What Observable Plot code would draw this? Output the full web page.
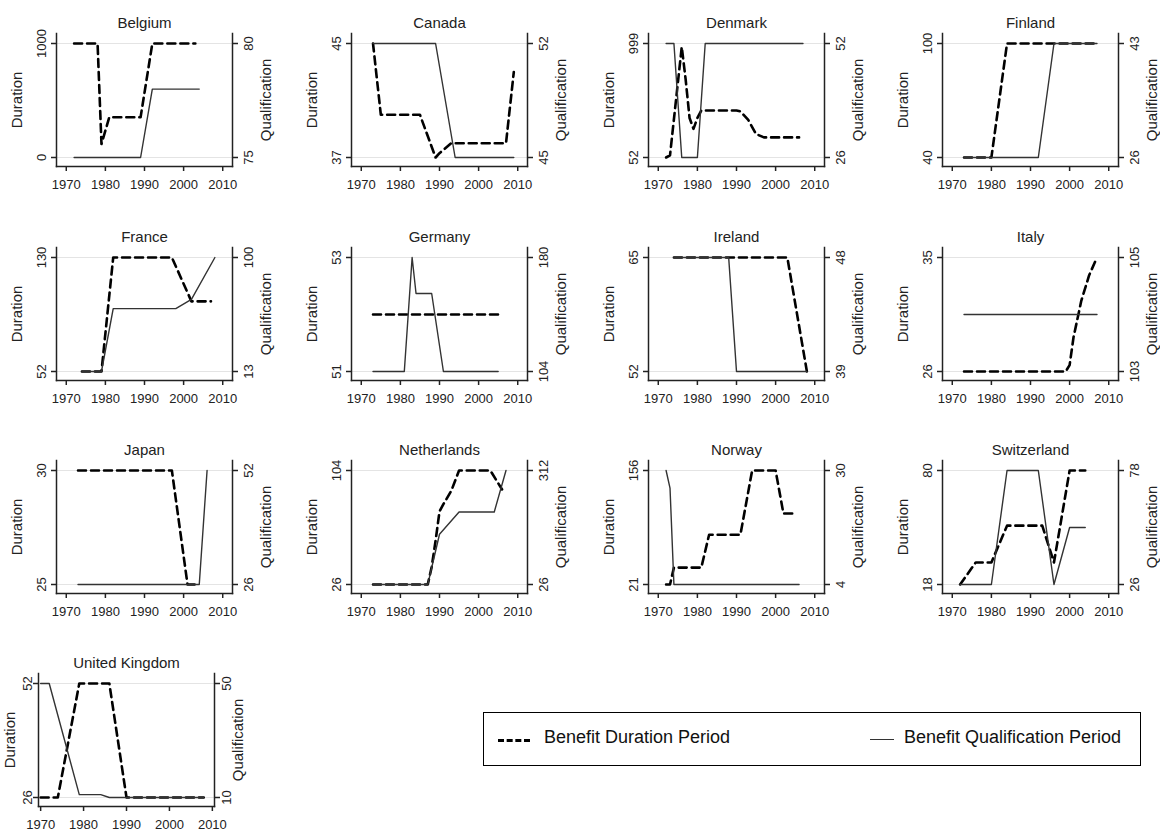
<!DOCTYPE html>
<html><head><meta charset="utf-8">
<script src="https://cdn.jsdelivr.net/npm/d3@7"></script>
<script src="https://cdn.jsdelivr.net/npm/@observablehq/plot@0.6"></script>
<style>
html,body{margin:0;padding:0;background:#fff;}
body{font-family:"Liberation Sans",Arial,Helvetica,sans-serif;}
#root{position:relative;width:1160px;height:833px;overflow:hidden;background:#fff;}
.panel{position:absolute;width:280px;height:195px;}
.panel svg{position:absolute;left:0;top:0;max-width:none;}
g[aria-label="y-axis label"] text{font-size:15px;}
#legend{position:absolute;left:483px;top:712px;width:658px;height:54px;border:1.5px solid #000;box-sizing:border-box;font-size:18px;color:#111;}
#legend .sw{position:absolute;top:26px;width:32px;height:0;}
#legend .lab{position:absolute;top:14px;white-space:nowrap;}
</style></head>
<body><div id="root"></div>
<script>
// ---- data ----
const countries = ["Belgium","Canada","Denmark","Finland","France","Germany","Ireland","Italy","Japan","Netherlands","Norway","Switzerland","United Kingdom"];
const durationTicks = [[0,1000],[37,45],[52,999],[40,100],[52,130],[51,53],[52,65],[26,35],[25,30],[26,104],[21,156],[18,80],[26,52]];
const qualificationTicks = [[75,80],[45,52],[26,52],[26,43],[13,100],[104,180],[39,48],[103,105],[26,52],[26,312],[4,30],[26,78],[10,50]];
const yearTicks = [1970,1980,1990,2000,2010];

// [year, weeks]
const belgiumDuration = [[1972,1000],[1978,1000],[1979,118],[1981,353],[1989,353],[1992,1000],[2003,1000]];
const belgiumQualification = [[1972,75],[1989,75],[1992,78],[2004,78]];
const canadaDuration = [[1973,45],[1975,40],[1985,40],[1989,37],[1990,37.3],[1993,38],[2007,38],[2009,43]];
const canadaQualification = [[1973,52],[1989,52],[1994,45],[2009,45]];
const denmarkDuration = [[1972,52],[1973,70],[1976,970],[1977,700],[1978,380],[1979,290],[1980,380],[1981,442],[1990,442],[1991,435],[1993,364],[1995,247],[1997,219],[2006,219]];
const denmarkQualification = [[1972,52],[1974,52],[1976,26],[1980,26],[1982,52],[2007,52]];
const finlandDuration = [[1973,40],[1980,40],[1984,100],[2007,100]];
const finlandQualification = [[1973,26],[1992,26],[1996,43],[2007,43]];
const franceDuration = [[1974,52],[1979,52],[1982,130],[1997,130],[2002,100],[2007,100]];
const franceQualification = [[1974,13],[1979,13],[1982,61],[1998,61],[2002,68],[2008,100]];
const germanyDuration = [[1973,52],[2005,52]];
const germanyQualification = [[1973,104],[1981,104],[1983,180],[1984,156],[1988,156],[1991,104],[2005,104]];
const irelandDuration = [[1974,65],[2003,65],[2008,52]];
const irelandQualification = [[1974,48],[1988,48],[1990,39],[2008,39]];
const italyDuration = [[1973,26],[1999,26],[2000,26.5],[2001,28.7],[2003,31.6],[2005,33.6],[2007,35]];
const italyQualification = [[1973,104],[2007,104]];
const japanDuration = [[1973,30],[1997,30],[2001,25],[2004,25]];
const japanQualification = [[1973,26],[2004,26],[2006,52]];
const netherlandsDuration = [[1973,26],[1987,26],[1988,38],[1989,56],[1990,76],[1991,81],[1993,90],[1994,97],[1995,104],[2003,104],[2006,91]];
const netherlandsQualification = [[1973,26],[1987,26],[1990,152],[1995,208],[2004,208],[2007,312]];
const norwayDuration = [[1972,21],[1973,21],[1974,41],[1981,41],[1983,80],[1991,80],[1994,156],[2000,156],[2002,105],[2005,105]];
const norwayQualification = [[1972,30],[1973,26],[1974,4],[2006,4]];
const switzerlandDuration = [[1972,18],[1976,30],[1980,30],[1984,50],[1993,50],[1996,30],[2000,80],[2004,80]];
const switzerlandQualification = [[1972,26],[1980,26],[1984,78],[1992,78],[1996,26],[2000,52],[2004,52]];
const ukDuration = [[1970,26],[1974,26],[1979,52],[1986,52],[1990,26],[2008,26]];
const ukQualification = [[1970,50],[1972,50],[1979,11],[1984,11],[1986,10],[2008,10]];

const durationSeries = [belgiumDuration,canadaDuration,denmarkDuration,finlandDuration,franceDuration,germanyDuration,irelandDuration,italyDuration,japanDuration,netherlandsDuration,norwayDuration,switzerlandDuration,ukDuration];
const qualificationSeries = [belgiumQualification,canadaQualification,denmarkQualification,finlandQualification,franceQualification,germanyQualification,irelandQualification,italyQualification,japanQualification,netherlandsQualification,norwayQualification,switzerlandQualification,ukQualification];

// ---- layout ----
const colLeft = [0,295,592,886];
const rowTop = [0,214,427,640];
const W = 280, H = 195, MT = 33, MB = 29;
const ink = "#222";
const root = document.getElementById("root");
const fmt = d => String(d);

function makePanel(i, left, top, o) {
  const div = document.createElement("div");
  div.className = "panel";
  div.style.left = left + "px";
  div.style.top = top + "px";
  const dur = durationSeries[i].map(([year, value]) => ({year, value}));
  const qual = qualificationSeries[i].map(([year, value]) => ({year, value}));
  const common = {
    width: W, height: H, marginLeft: o.ml, marginRight: o.mr, marginTop: MT, marginBottom: MB,
    insetTop: 10, insetBottom: 9,
    style: {fontFamily: '"Liberation Sans", Arial, sans-serif', fontSize: "13px", color: ink, background: "transparent", overflow: "visible"}
  };
  const p1 = Plot.plot({
    ...common,
    x: {domain: o.xd},
    y: {domain: durationTicks[i]},
    marks: [
      Plot.gridY(durationTicks[i], {stroke: "#e4e4e4", strokeOpacity: 1}),
      Plot.frame({anchor: "left", strokeWidth: 1.5}),
      Plot.frame({anchor: "bottom", strokeWidth: 1.5}),
      Plot.axisX(yearTicks, {tickFormat: fmt, tickSize: 5, tickPadding: 8, strokeWidth: 1.5, label: null, fontSize: 13}),
      Plot.axisY(durationTicks[i], {anchor: "left", tickFormat: fmt, tickRotate: -90, textAnchor: "middle", lineAnchor: "bottom", tickSize: 5, tickPadding: o.tp, strokeWidth: 1.5, fontSize: 13, label: "Duration", labelArrow: "none", labelAnchor: "center", labelOffset: o.llo}),
      Plot.line(dur, {x: "year", y: "value", stroke: "#000", strokeWidth: 2.6, strokeDasharray: "8,5"}),
      Plot.text([countries[i]], {frameAnchor: "top", dy: -16, fontSize: 15, fill: ink, text: d => d})
    ]
  });
  const p2 = Plot.plot({
    ...common,
    x: {domain: o.xd, axis: null},
    y: {domain: qualificationTicks[i]},
    marks: [
      Plot.frame({anchor: "right", strokeWidth: 1.5}),
      Plot.axisY(qualificationTicks[i], {anchor: "right", tickFormat: fmt, tickRotate: -90, textAnchor: "middle", lineAnchor: "top", tickSize: 5, tickPadding: o.tp, strokeWidth: 1.5, fontSize: 13, label: "Qualification", labelArrow: "none", labelAnchor: "center", labelOffset: o.rlo}),
      Plot.line(qual, {x: "year", y: "value", stroke: "#333", strokeWidth: 1.4})
    ]
  });
  div.appendChild(p1);
  div.appendChild(p2);
  root.appendChild(div);
}

const regular = {ml: 56, mr: 48, llo: 45, rlo: 38, tp: 6, xd: [1967.5, 2012.5]};
const compact = {ml: 38, mr: 66, llo: 34, rlo: 28, tp: 2, xd: [1969.5, 2010.5]};
countries.forEach((c, i) => {
  if (i < 12) makePanel(i, colLeft[i % 4], rowTop[Math.floor(i / 4)], regular);
  else makePanel(i, 0, rowTop[3], compact);
});

// legend
const legend = document.createElement("div");
legend.id = "legend";
legend.innerHTML =
  '<div class="sw" style="left:14px;border-top:3px dashed #000;"></div>' +
  '<div class="lab" style="left:60px;">Benefit Duration Period</div>' +
  '<div class="sw" style="left:386px;width:24px;border-top:1.5px solid #333;"></div>' +
  '<div class="lab" style="left:420px;">Benefit Qualification Period</div>';
root.appendChild(legend);
</script>
</body></html>
